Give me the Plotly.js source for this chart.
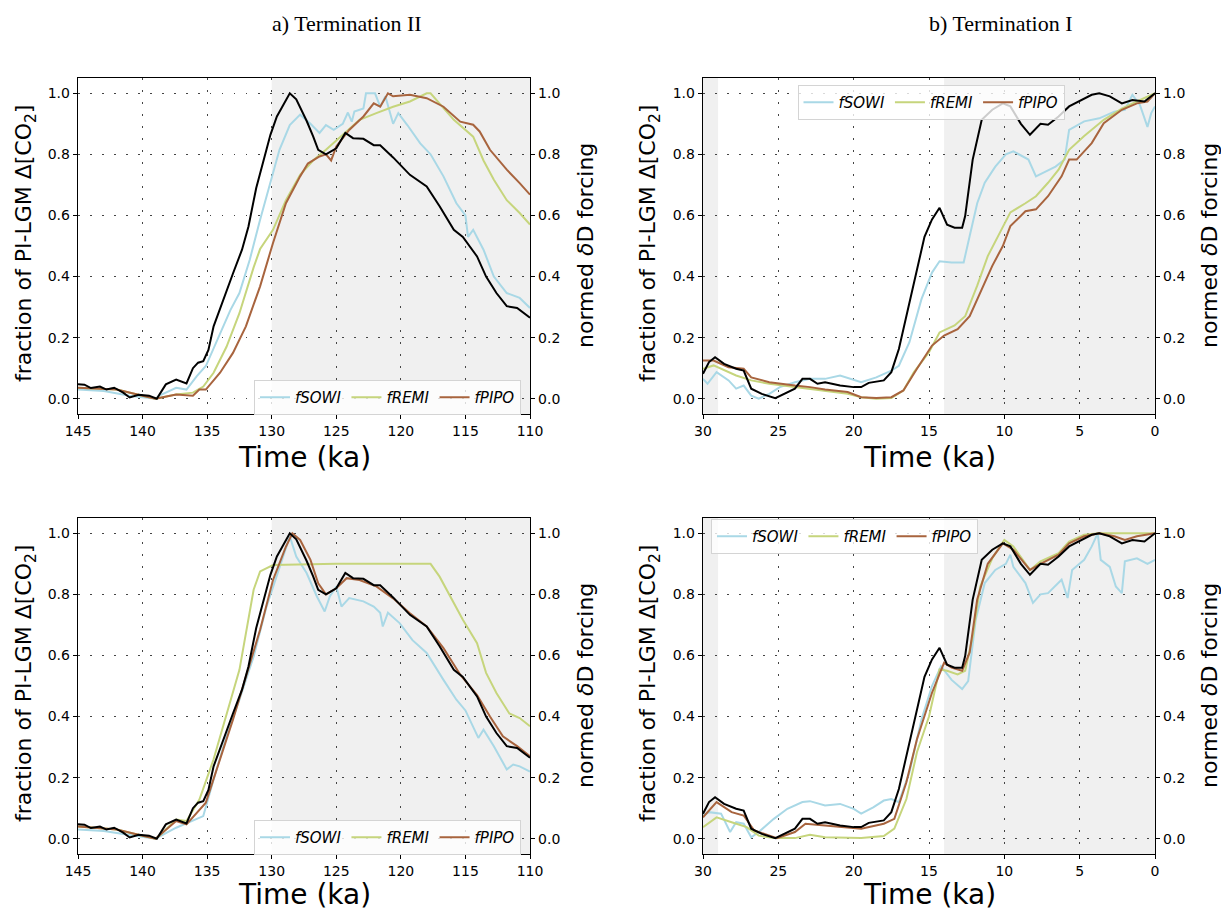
<!DOCTYPE html>
<html>
<head>
<meta charset="utf-8">
<script src="https://cdn.plot.ly/plotly-3.0.1.min.js"></script>
<style>html,body{margin:0;padding:0;background:#fff;}#chart{width:1221px;height:913px;}</style>
</head>
<body>
<div id="chart"></div>
<script>
// ---------- DATA ----------
const seriesNames = ["fSOWI", "fREMI", "fPIPO"];
const seriesColors = ["#a9d8e6", "#c6d57c", "#a8643e"];

// Termination II: normed deltaD forcing (black, same in a and c)
const t2_dD_x = [145,144.5,144,143.3,142.8,142.2,141.5,141,140.3,139.5,138.9,138.2,137.4,136.6,136.1,135.7,135.3,134.9,134.5,134,133.5,133,132.3,131.8,131.2,130.7,130.1,129.6,129.1,128.6,128.1,127.3,126.8,126.4,125.8,125,124.3,123.7,122.9,122.1,121.6,120.6,119.3,118,117,115.9,115.2,114.1,113.4,112.6,111.8,111,110];
const t2_dD_y = [0.047,0.046,0.035,0.04,0.03,0.036,0.02,0.004,0.013,0.01,0.0,0.047,0.063,0.05,0.10,0.118,0.123,0.16,0.237,0.297,0.357,0.41,0.488,0.564,0.69,0.77,0.864,0.924,0.962,1.0,0.98,0.91,0.86,0.815,0.80,0.82,0.87,0.853,0.851,0.83,0.83,0.79,0.733,0.695,0.63,0.553,0.53,0.466,0.40,0.346,0.303,0.297,0.265];

// Panel a (Termination II, top)
const a_sowi_x = [145,143,141,139,138.7,137.4,136.6,135.8,135.1,134,133.2,132.5,131.7,130.9,130.1,129.4,128.6,127.8,127,126.3,125.8,125.2,124.5,124.1,123.8,123.6,122.9,122.7,122,121.6,121.2,120.6,120.2,119.5,118.5,117.7,116.7,115.7,115,114.8,114.4,113.6,112.8,111.8,110.8,110];
const a_sowi_y = [0.03,0.025,0.01,0.0,0.01,0.036,0.03,0.074,0.107,0.216,0.29,0.346,0.455,0.586,0.706,0.815,0.896,0.93,0.90,0.87,0.896,0.88,0.90,0.937,0.907,0.94,0.95,1.0,1.0,0.956,0.99,0.90,0.935,0.896,0.836,0.80,0.728,0.64,0.60,0.53,0.553,0.488,0.40,0.346,0.33,0.297];
const a_remi_x = [145,142,140,139,137.4,136.1,135.3,134.5,133.5,132.5,131.4,130.9,129.9,128.9,127.8,126.8,125.8,124.5,123.2,121.9,120.6,119.3,118,117.7,117,115.9,114.4,113.6,112.8,111.8,110.8,110];
const a_remi_y = [0.036,0.03,0.01,0.0,0.014,0.02,0.04,0.085,0.17,0.28,0.43,0.49,0.553,0.65,0.733,0.78,0.815,0.864,0.913,0.935,0.956,0.973,1.0,1.0,0.967,0.913,0.858,0.78,0.717,0.65,0.608,0.57];
const a_pipo_x = [145,142,140,139,137.4,136.1,135.6,135.1,134,133,132,130.9,129.9,128.9,127.8,127.2,126.3,125.8,125.4,125,124,122.9,122.1,121.6,121,120.6,119.3,118,116.7,115.4,114.4,113.9,113.1,111.8,110.8,110];
const a_pipo_y = [0.036,0.03,0.01,0.0,0.014,0.01,0.03,0.03,0.085,0.15,0.237,0.368,0.51,0.64,0.728,0.77,0.793,0.80,0.78,0.826,0.88,0.924,0.967,0.956,1.0,0.99,0.995,0.984,0.956,0.907,0.897,0.875,0.815,0.75,0.706,0.668];

// Panel c (Termination II, bottom)
const c_sowi_x = [145,143,141,139,137.4,136.1,135.3,134.5,133.5,132.5,131.4,130.4,129.4,128.6,128.1,127.3,126.5,125.9,125.5,125,124.6,124,122.9,122.1,121.6,121.4,121,120.1,119.1,118,116.7,115.7,115,114.4,114,113.6,112.8,111.8,111.3,110.8,110];
const c_sowi_y = [0.03,0.025,0.012,0.0,0.036,0.058,0.074,0.194,0.335,0.455,0.597,0.76,0.89,0.99,0.924,0.87,0.793,0.744,0.793,0.826,0.76,0.788,0.777,0.76,0.74,0.695,0.74,0.706,0.65,0.608,0.52,0.455,0.42,0.368,0.33,0.357,0.303,0.227,0.243,0.237,0.22];
const c_remi_x = [145,142,140,139,138.7,137.4,136.6,135.6,134.5,133.5,132.5,131.4,130.9,129.9,125,120,118,117.7,117,116.2,115.2,114.1,113.4,112.6,111.6,110.8,110];
const c_remi_y = [0.04,0.03,0.01,0.0,0.01,0.063,0.058,0.128,0.26,0.41,0.553,0.815,0.875,0.896,0.90,0.90,0.90,0.90,0.858,0.793,0.717,0.64,0.543,0.477,0.41,0.395,0.368];
const c_pipo_x = [145,142,140,139,137.4,136.6,135.1,134,133,132,130.9,129.9,128.9,128.4,127.8,127,126.4,125.8,125,124.2,123.2,121.9,120.6,119.3,118,116.7,115.4,114.1,113.1,112.1,111,110];
const c_pipo_y = [0.04,0.03,0.01,0.0,0.058,0.047,0.118,0.26,0.39,0.53,0.684,0.847,0.956,1.0,0.978,0.913,0.836,0.80,0.82,0.853,0.847,0.826,0.787,0.738,0.695,0.624,0.537,0.47,0.40,0.335,0.303,0.27];

// Termination I: normed deltaD forcing (black, same in b and d)
const t1_dD_x = [30,29.6,29.2,28.6,27.8,27.3,26.8,26.1,25.2,24.6,23.9,23.4,22.9,22.4,21.9,20.9,20,19.5,19,18,17.5,17,16.5,16,15.3,14.8,14.3,13.8,13.3,12.8,12.6,12.1,11.5,10.8,10.1,9.6,8.9,8.3,7.6,7.1,6.4,5.7,4.9,4.2,3.7,3.0,2.2,1.5,0.7,0.25,0];
const t1_dD_y = [0.082,0.12,0.136,0.114,0.098,0.092,0.033,0.016,0.002,0.016,0.033,0.065,0.065,0.049,0.054,0.043,0.038,0.038,0.052,0.06,0.087,0.163,0.27,0.37,0.53,0.587,0.625,0.57,0.56,0.56,0.598,0.783,0.913,0.946,0.967,0.957,0.90,0.864,0.90,0.897,0.924,0.957,0.978,0.995,1.0,0.99,0.967,0.978,0.973,0.99,1.0];

// Panel b (Termination I, top)
const b_sowi_x = [30,29.7,29.1,28.3,27.8,27.3,26.8,26.3,25.6,24.9,23.9,22.9,21.9,20.9,19.5,18.5,17.5,17,16.3,15.5,14.8,14.3,13.5,12.7,12.3,11.8,11.3,10.6,9.9,9.4,8.4,7.9,7.4,6.6,6,5.7,4.7,3.7,2.7,2,1.5,1,0.5,0.25,0];
const b_sowi_y = [0.065,0.049,0.087,0.06,0.033,0.043,0.01,0.0,0.016,0.038,0.054,0.065,0.065,0.076,0.054,0.07,0.092,0.108,0.185,0.326,0.413,0.45,0.446,0.446,0.533,0.64,0.707,0.76,0.80,0.81,0.783,0.728,0.74,0.76,0.783,0.88,0.908,0.918,0.94,0.946,0.995,0.962,0.89,0.935,0.957];
const b_remi_x = [30,29.3,27.8,26.8,25.6,23.9,21.9,20.4,19.5,18.5,17.5,16.7,16,15,14.3,13.3,12.6,11.8,11.1,10.3,9.6,8.6,7.9,7.1,6.4,5.7,4.7,3.4,2.2,1.2,0];
const b_remi_y = [0.098,0.109,0.076,0.06,0.049,0.038,0.027,0.016,0.005,0.0,0.002,0.027,0.087,0.152,0.217,0.24,0.27,0.37,0.467,0.543,0.61,0.64,0.663,0.707,0.75,0.815,0.86,0.913,0.95,0.973,1.0];
const b_pipo_x = [30,29.3,28.3,27.3,26.8,25.6,23.9,22.9,21.9,20.4,19.5,18.5,17.5,16.7,15.8,14.8,14,13.1,12.3,11.6,10.8,10.1,9.6,8.6,7.9,7.1,6.2,5.7,5.2,4.2,3.4,2.2,1.2,0.5,0];
const b_pipo_y = [0.125,0.125,0.103,0.098,0.07,0.054,0.043,0.038,0.03,0.022,0.005,0.002,0.005,0.027,0.098,0.174,0.207,0.228,0.27,0.348,0.435,0.50,0.565,0.614,0.62,0.663,0.728,0.783,0.783,0.837,0.902,0.946,0.967,0.973,1.0];

// Panel d (Termination I, bottom)
const d_sowi_x = [30,29.6,28.8,28.2,27.8,27.3,26.8,26.3,25.3,24.4,23.4,22.9,21.9,20.9,20,19.5,18.7,18,17.5,17,16.3,15.5,14.8,14.2,13.5,12.8,12.4,11.9,11.3,10.6,9.9,9.6,9.4,8.6,8.1,7.6,7.1,6.2,5.8,5.5,4.7,4.2,3.8,3.6,3.0,2.6,2.2,2.0,1.2,0.5,0];
const d_sowi_y = [0.076,0.087,0.082,0.022,0.054,0.049,0.005,0.022,0.065,0.098,0.12,0.123,0.109,0.114,0.098,0.082,0.103,0.125,0.13,0.12,0.217,0.39,0.50,0.565,0.52,0.49,0.516,0.717,0.837,0.88,0.90,0.93,0.89,0.837,0.772,0.80,0.804,0.848,0.788,0.88,0.913,0.957,1.0,0.913,0.89,0.826,0.804,0.908,0.918,0.90,0.913];
const d_remi_x = [30,29.1,28.1,27.1,26.3,25.3,23.9,22.9,21.9,19.5,18,17.3,16.5,15.8,15,14.3,13.8,13.1,12.6,12.1,11.6,10.8,10,9.4,8.3,7.6,6.4,5.7,4.7,3.7,2.2,0];
const d_remi_y = [0.038,0.07,0.054,0.038,0.01,0.002,0.002,0.013,0.005,0.002,0.009,0.033,0.13,0.283,0.40,0.554,0.55,0.538,0.55,0.663,0.826,0.918,0.978,0.957,0.88,0.908,0.935,0.973,0.995,1.0,1.0,1.0];
const d_pipo_x = [30,29.1,28.1,27.3,26.6,25.9,25.1,23.9,23.2,21.9,20.4,19.5,18,17.3,16.5,15.8,14.8,14,13.5,12.8,12.3,11.8,11.1,10.1,9.4,8.3,7.6,6.4,5.7,4.7,3.7,2.7,2,1.2,0];
const d_pipo_y = [0.07,0.12,0.087,0.076,0.027,0.016,0.002,0.022,0.049,0.043,0.038,0.033,0.049,0.065,0.185,0.326,0.478,0.576,0.56,0.55,0.61,0.783,0.90,0.967,0.946,0.88,0.90,0.93,0.967,0.99,1.0,0.99,0.978,0.99,1.0];

// ---------- TRACES ----------
const panels = [
  {xa:"x",  ya:"y",  ya2:"y5", leg:"legend",  dx:t2_dD_x, dy:t2_dD_y, s:[[a_sowi_x,a_sowi_y],[a_remi_x,a_remi_y],[a_pipo_x,a_pipo_y]]},
  {xa:"x2", ya:"y2", ya2:"y6", leg:"legend2", dx:t1_dD_x, dy:t1_dD_y, s:[[b_sowi_x,b_sowi_y],[b_remi_x,b_remi_y],[b_pipo_x,b_pipo_y]]},
  {xa:"x3", ya:"y3", ya2:"y7", leg:"legend3", dx:t2_dD_x, dy:t2_dD_y, s:[[c_sowi_x,c_sowi_y],[c_remi_x,c_remi_y],[c_pipo_x,c_pipo_y]]},
  {xa:"x4", ya:"y4", ya2:"y8", leg:"legend4", dx:t1_dD_x, dy:t1_dD_y, s:[[d_sowi_x,d_sowi_y],[d_remi_x,d_remi_y],[d_pipo_x,d_pipo_y]]}
];
const traces = [];
panels.forEach(p => {
  p.s.forEach((xy, i) => {
    traces.push({x: xy[0], y: xy[1], xaxis: p.xa, yaxis: p.ya, type: "scatter", mode: "lines",
      name: seriesNames[i], legend: p.leg, line: {color: seriesColors[i], width: 2}});
  });
  traces.push({x: p.dx, y: p.dy, xaxis: p.xa, yaxis: p.ya2, type: "scatter", mode: "lines",
    name: "δD", showlegend: false, line: {color: "#000000", width: 2}});
});

// ---------- LAYOUT ----------
const W = 1221, H = 913;
const tickFont = {family: "DejaVu Sans", size: 14, color: "#000"};
const gridDash = "1.5px,10.5px";
function xax(dom, rng, anchor) {
  return {domain: dom, range: rng, anchor: anchor, dtick: 5, tick0: 0, ticks: "outside", ticklen: 4, tickwidth: 1,
    tickcolor: "#000", showline: true, linecolor: "#000", linewidth: 1.3, mirror: true, showgrid: true,
    gridcolor: "#444", gridwidth: 1, griddash: gridDash, zeroline: false, tickfont: tickFont};
}
function yax(dom, anchor) {
  return {domain: dom, range: [-0.05, 1.05], anchor: anchor, dtick: 0.2, tick0: 0, tickformat: ".1f", ticks: "outside",
    ticklen: 4, tickwidth: 1, tickcolor: "#000", showline: true, linecolor: "#000", linewidth: 1.3, mirror: true,
    showgrid: true, gridcolor: "#444", gridwidth: 1, griddash: gridDash, zeroline: false, tickfont: tickFont};
}
function yax2(over, anchor) {
  return {overlaying: over, side: "right", anchor: anchor, range: [-0.05, 1.05], dtick: 0.2, tick0: 0, tickformat: ".1f",
    ticks: "outside", ticklen: 4, tickwidth: 1, tickcolor: "#000", showline: true, linecolor: "#000", linewidth: 1.3,
    showgrid: false, zeroline: false, tickfont: tickFont};
}
const xL = [78 / W, 530 / W], xR = [703 / W, 1155 / W];
const yT = [1 - 414 / H, 1 - 78 / H], yB = [1 - 854 / H, 1 - 518 / H];

function legendAt(x, xanchor, ytop) {
  return {x: x, xanchor: xanchor, y: ytop, yanchor: "top", orientation: "h",
    bgcolor: "rgba(255,255,255,0.8)", bordercolor: "#d4d4d4", borderwidth: 1,
    font: {family: "DejaVu Sans", size: 15, style: "italic", color: "#000"}};
}

const shade = "#f0f0f0";
function rect(xref, yref, x0, x1) {
  return {type: "rect", xref: xref, yref: yref + " domain", x0: x0, x1: x1, y0: 0, y1: 1,
    fillcolor: shade, line: {width: 0}, layer: "below"};
}

const yTitleFont = {family: "DejaVu Sans", size: 22, color: "#000"};
const xTitleFont = {family: "DejaVu Sans", size: 28, color: "#000"};
const panelTitleFont = {family: "Liberation Serif", size: 22, color: "#000"};
const leftTitle = "fraction of PI-LGM Δ[CO<sub>2</sub>]";
const rightTitle = "normed <i>δ</i>D forcing";
function ann(text, xpx, ypx, font, angle) {
  return {text: text, x: xpx / W, y: 1 - ypx / H, xref: "paper", yref: "paper", xanchor: "center", yanchor: "middle",
    showarrow: false, font: font, textangle: angle || 0};
}
const annotations = [
  ann("a) Termination II", 347, 23, panelTitleFont),
  ann("b) Termination I", 1000, 23, panelTitleFont),
  ann(leftTitle, 25, 244, yTitleFont, -90),
  ann(rightTitle, 585, 246, yTitleFont, -90),
  ann(leftTitle, 649, 244, yTitleFont, -90),
  ann(rightTitle, 1209, 246, yTitleFont, -90),
  ann(leftTitle, 25, 684, yTitleFont, -90),
  ann(rightTitle, 585, 686, yTitleFont, -90),
  ann(leftTitle, 649, 684, yTitleFont, -90),
  ann(rightTitle, 1209, 686, yTitleFont, -90),
  ann("Time (ka)", 304, 457, xTitleFont),
  ann("Time (ka)", 929, 457, xTitleFont),
  ann("Time (ka)", 304, 894, xTitleFont),
  ann("Time (ka)", 929, 894, xTitleFont)
];

const layout = {
  width: W, height: H, margin: {l: 0, r: 0, t: 0, b: 0},
  paper_bgcolor: "#fff", plot_bgcolor: "#fff",
  xaxis: xax(xL, [145, 110], "y"),
  xaxis2: xax(xR, [30, 0], "y2"),
  xaxis3: xax(xL, [145, 110], "y3"),
  xaxis4: xax(xR, [30, 0], "y4"),
  yaxis: yax(yT, "x"),
  yaxis2: yax(yT, "x2"),
  yaxis3: yax(yB, "x3"),
  yaxis4: yax(yB, "x4"),
  yaxis5: yax2("y", "x"),
  yaxis6: yax2("y2", "x2"),
  yaxis7: yax2("y3", "x3"),
  yaxis8: yax2("y4", "x4"),
  legend: legendAt(521 / W, "right", 1 - 380 / H),
  legend2: legendAt(931 / W, "center", 1 - 85 / H),
  legend3: legendAt(521 / W, "right", 1 - 820 / H),
  legend4: legendAt(711 / W, "left", 1 - 519 / H),
  shapes: [
    rect("x", "y", 130, 110),
    rect("x2", "y2", 30, 29),
    rect("x2", "y2", 14, 0),
    rect("x3", "y3", 130, 110),
    rect("x4", "y4", 30, 29),
    rect("x4", "y4", 14, 0)
  ],
  annotations: annotations,
  showlegend: true
};

Plotly.newPlot("chart", traces, layout, {displayModeBar: false, staticPlot: true});
</script>
</body>
</html>
